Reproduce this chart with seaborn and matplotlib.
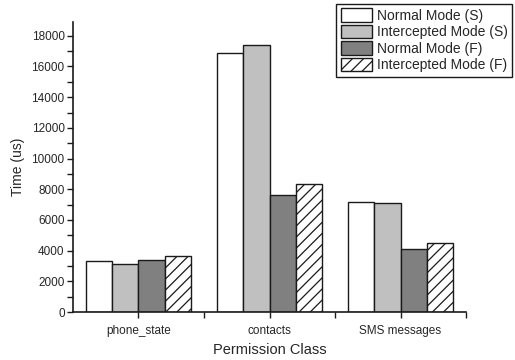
import matplotlib
matplotlib.use("Agg")
import matplotlib.pyplot as plt
from matplotlib.patches import Patch
from matplotlib.ticker import MultipleLocator, FixedLocator
import pandas as pd
import seaborn as sns

categories = ["phone_state", "contacts", "SMS messages"]
modes = ["Normal Mode (S)", "Intercepted Mode (S)", "Normal Mode (F)", "Intercepted Mode (F)"]
normal_s = [3300, 16900, 7200]
intercepted_s = [3100, 17400, 7130]
normal_f = [3400, 7650, 4090]
intercepted_f = [3650, 8350, 4520]

faces = ["#ffffff", "#c0c0c0", "#808080", "#ffffff"]
hatches = ["", "", "", "///"]

df = pd.DataFrame({
    "category": categories * 4,
    "mode": sum([[m] * 3 for m in modes], []),
    "time": normal_s + intercepted_s + normal_f + intercepted_f,
})

sns.set_theme(style="ticks")
plt.rcParams["font.family"] = ["Liberation Sans", "DejaVu Sans"]
plt.rcParams["hatch.color"] = "#858585"
plt.rcParams["hatch.linewidth"] = 0.9

fig = plt.figure(figsize=(5.15, 3.6), dpi=100)
ax = fig.add_axes([0.1417, 0.1333, 0.7633, 0.8056])

sns.barplot(data=df, x="category", y="time", hue="mode", order=categories,
            hue_order=modes, width=0.8, ax=ax, legend=False,
            palette=faces, saturation=1)

for container, fc, h in zip(ax.containers, faces, hatches):
    for bar in container:
        bar.set_facecolor(fc)
        bar.set_edgecolor("#1a1a1a")
        bar.set_linewidth(1.0)
        bar.set_hatch(h)

ax.set_xlim(-0.5, 2.5)
ax.set_ylim(0, 18900)
ax.yaxis.set_major_locator(MultipleLocator(2000))
ax.yaxis.set_minor_locator(MultipleLocator(1000))
ax.xaxis.set_minor_locator(FixedLocator([0.5, 1.5, 2.5]))
ax.tick_params(axis="both", which="major", labelsize=8.5, length=4, width=1.0, color="#1a1a1a", pad=2)
ax.tick_params(axis="both", which="minor", length=4, width=1.0, color="#1a1a1a")
ax.tick_params(axis="x", which="major", pad=5)
for s in ["top", "right"]:
    ax.spines[s].set_visible(False)
for s in ["left", "bottom"]:
    ax.spines[s].set_linewidth(1.2)
    ax.spines[s].set_color("#1a1a1a")

ax.set_xlabel("Permission Class", fontsize=10.5, labelpad=5)
ax.set_ylabel("Time (us)", fontsize=10, labelpad=5)

handles = [Patch(facecolor=fc, edgecolor="#1a1a1a", hatch=h, linewidth=1.0)
           for fc, h in zip(faces, hatches)]
leg = fig.legend(handles, modes, loc="upper right", bbox_to_anchor=(0.995, 0.99),
                 fontsize=10, frameon=True, fancybox=False, edgecolor="#1a1a1a",
                 framealpha=1, borderpad=0.35, labelspacing=0.15, handlelength=2.2,
                 handleheight=1.1, handletextpad=0.35, borderaxespad=0)
leg.get_frame().set_linewidth(1.0)

fig.savefig("out.png", dpi=100)
